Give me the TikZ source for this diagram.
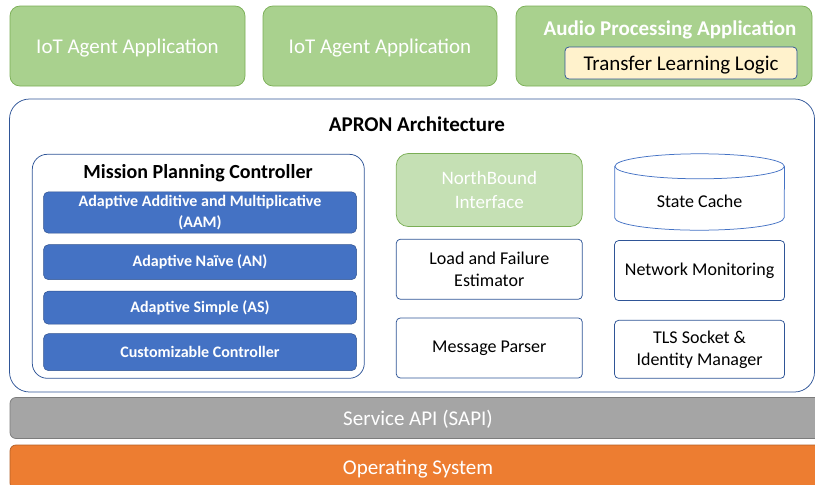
\documentclass[tikz,border=0pt]{standalone}
\usepackage{fontspec}
\setmainfont{Carlito}
\usepackage{xcolor}
\usepackage{tikz}
\usetikzlibrary{positioning,calc}

\definecolor{appgreen}{HTML}{A9D18E}
\definecolor{appline}{HTML}{7AAE55}
\definecolor{nbgreen}{HTML}{C5E0B4}
\definecolor{tlyellow}{HTML}{FFF2CC}
\definecolor{boxline}{HTML}{2F5597}
\definecolor{cylline}{HTML}{4472C4}
\definecolor{barblue}{HTML}{4472C4}
\definecolor{barline}{HTML}{2F528F}
\definecolor{sapigrey}{HTML}{A5A5A5}
\definecolor{osorange}{HTML}{ED7D31}

\begin{document}
\begin{tikzpicture}[x=1pt,y=-1pt,
    app/.style={draw=appline, fill=appgreen, line width=0.75pt, rounded corners=10pt,
      minimum height=80pt, text=white, text depth=0pt, font=\fontsize{21}{25}\selectfont},
    title/.style={font=\bfseries\fontsize{21}{25}\selectfont},
    box/.style={draw=boxline, fill=white, line width=0.75pt, rounded corners=4pt,
      minimum width=186pt, minimum height=60pt, align=center,
      font=\fontsize{18}{22}\selectfont},
    bar/.style={draw=barline, fill=barblue, line width=0.5pt, rounded corners=5pt,
      minimum width=313pt, text=white, align=center,
      font=\bfseries\fontsize{16}{21}\selectfont},
    sysbar/.style={draw=#1!75!black, fill=#1, line width=0.75pt, rounded corners=6pt,
      minimum width=816pt, text=white, text depth=0pt, font=\fontsize{21}{25}\selectfont}]

  \useasboundingbox (0,0) rectangle (815,485);
  \clip (0,0) rectangle (815,485);

  % applications on top
  \node[app, minimum width=235pt] (app1) at (127.5,46) {IoT Agent Application};
  \node[app, minimum width=234pt] (app2) at (380,46) {IoT Agent Application};
  \node[app, minimum width=296pt] (app3) at (664,46) {};
  \node[title, text=white] (app3t) at (670,30) {Audio Processing Application};
  \node[draw=boxline, fill=tlyellow, line width=0.75pt, rounded corners=4pt,
    minimum width=232pt, minimum height=32pt, text depth=0pt,
    font=\fontsize{21}{25}\selectfont] (tll) at (681,63) {Transfer Learning Logic};

  % APRON frame
  \node[draw=boxline, line width=0.75pt, rounded corners=20pt,
    minimum width=805pt, minimum height=293pt] (apron) at (412,245.5) {};
  \node[title] (apront) at (417,124) {APRON Architecture};

  % mission planning controller
  \node[draw=boxline, line width=0.75pt, rounded corners=15pt,
    minimum width=332pt, minimum height=224pt] (mpc) at (198.3,266.3) {};
  \node[title, font=\bfseries\fontsize{20}{24}\selectfont] (mpct) at (198,173) {Mission Planning Controller};
  \node[bar, minimum height=41pt] (aam) at (200,212.5) {Adaptive Additive and Multiplicative\\(AAM)};
  \node[bar, minimum height=35pt, below=11pt of aam] (an) {Adaptive Naïve (AN)};
  \node[bar, minimum height=33pt, below=11pt of an] (as) {Adaptive Simple (AS)};
  \node[bar, minimum height=37pt, below=9pt of as] (cc) {Customizable Controller};

  % middle column
  \node[draw=appline, fill=nbgreen, line width=0.75pt, rounded corners=12pt,
    minimum width=186pt, minimum height=73pt, text=white, align=center,
    font=\fontsize{19}{24}\selectfont] (nbi) at (489.3,190) {NorthBound\\Interface};
  \node[box, below=12pt of nbi] (lfe) {Load and Failure\\Estimator};
  \node[box, below=18pt of lfe] (parser) {Message Parser};

  % right column
  \node[minimum width=169.5pt, minimum height=76pt] (cache) at (699.6,192) {};
  \draw[draw=cylline, line width=0.75pt]
    ($(cache.north)+(0,12.5)$) ellipse [x radius=84.75, y radius=12.5];
  \draw[draw=cylline, line width=0.75pt]
    ($(cache.north west)+(0,12.5)$) -- ($(cache.south west)+(0,-12.5)$)
    arc [start angle=180, end angle=0, x radius=84.75, y radius=12.5]
    -- ($(cache.north east)+(0,12.5)$);
  \node[font=\fontsize{18}{22}\selectfont] (cachet) at ($(cache.center)+(0,9)$) {State Cache};
  \node[box, minimum width=170pt, below=10pt of cache] (netmon) {Network Monitoring};
  \node[box, minimum width=170pt, minimum height=58pt, below=19pt of netmon] (tls) {TLS Socket \&\\Identity Manager};

  % system layers
  \node[sysbar=sapigrey, minimum height=41pt] (sapi) at (418,418) {Service API (SAPI)};
  \node[sysbar=osorange, minimum height=44pt] (os) at (418,467) {Operating System};
\end{tikzpicture}
\end{document}
